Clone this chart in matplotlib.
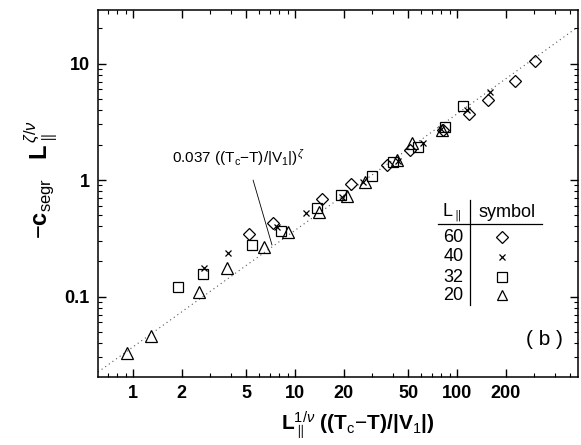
import numpy as np
import matplotlib
matplotlib.use("Agg")
import matplotlib.pyplot as plt
from matplotlib.ticker import LogLocator, NullFormatter

plt.rcParams["font.family"] = ["Liberation Sans", "DejaVu Sans"]
plt.rcParams["mathtext.fontset"] = "custom"
plt.rcParams["mathtext.rm"] = "Liberation Sans"
plt.rcParams["mathtext.it"] = "Liberation Sans:italic"
plt.rcParams["mathtext.bf"] = "Liberation Sans:bold"

# data: x = L^(1/nu) (Tc-T)/|V1|, y = -c_segr L^(zeta/nu)
x_60 = [5.20, 7.33, 14.7, 22.2, 37.0, 51.3, 82.2, 118.7, 155, 228, 303]
y_60 = [0.344, 0.428, 0.687, 0.924, 1.35, 1.81, 2.69, 3.69, 4.86, 7.07, 10.5]

x_40 = [2.74, 3.85, 7.7, 11.7, 19.5, 26.3, 43.3, 61.6, 79.5, 115, 160]
y_40 = [0.176, 0.236, 0.395, 0.52, 0.715, 0.96, 1.46, 2.08, 2.74, 3.99, 5.7]

x_32 = [1.90, 2.70, 5.43, 8.19, 13.7, 19.2, 29.9, 40.3, 57.3, 84.3, 109]
y_32 = [0.120, 0.156, 0.277, 0.365, 0.575, 0.743, 1.08, 1.43, 1.92, 2.85, 4.32]

x_20 = [0.92, 1.29, 2.56, 3.81, 6.44, 9.05, 14.0, 20.9, 27.0, 42.7, 52.7, 80.5]
y_20 = [0.033, 0.046, 0.109, 0.176, 0.266, 0.358, 0.53, 0.73, 0.96, 1.49, 2.08, 2.7]

fit_amp = 0.037
fit_exp = 1.0

legend_sizes = ["60", "40", "32", "20"]
legend_marks = ["D", "x", "s", "^"]

fig = plt.figure(figsize=(5.81, 4.45), dpi=100)
ax = fig.add_axes([0.1687, 0.1528, 0.8261, 0.8247])
ax.set_xscale("log")
ax.set_yscale("log")
ax.set_xlim(0.608, 558)
ax.set_ylim(0.0204, 28.8)

# fitted power law
xf = np.array(ax.get_xlim())
ax.plot(xf, fit_amp * xf ** fit_exp, color="#555555", lw=0.8,
        linestyle=(0, (1, 3)), zorder=1)

style = dict(linestyle="none", color="black", mfc="none", mew=0.9, zorder=3)
ax.plot(x_60, y_60, marker="D", ms=6.5, **style)
ax.plot(x_40, y_40, marker="x", ms=4, **style)
ax.plot(x_32, y_32, marker="s", ms=7, **style)
ax.plot(x_20, y_20, marker="^", ms=8, **style)

# ticks
ax.xaxis.set_minor_locator(LogLocator(base=10, subs=np.arange(2, 10)))
ax.set_xticks([1, 2, 5, 10, 20, 50, 100, 200])
ax.set_xticklabels(["1", "2", "5", "10", "20", "50", "100", "200"])
ax.yaxis.set_minor_locator(LogLocator(base=10, subs=np.arange(2, 10)))
ax.yaxis.set_minor_formatter(NullFormatter())
ax.xaxis.set_minor_formatter(NullFormatter())
ax.set_yticks([0.1, 1, 10])
ax.set_yticklabels(["0.1", "1", "10"])
ax.tick_params(which="both", direction="in", top=True, right=True)
ax.tick_params(which="major", length=6, width=1.0, labelsize=13, pad=6)
ax.tick_params(which="minor", length=3, width=0.8)
for lab in ax.get_xticklabels() + ax.get_yticklabels():
    lab.set_fontweight("bold")
for sp in ax.spines.values():
    sp.set_linewidth(1.1)

# annotation of fit
ax.annotate("", xy=(7.21, 0.277), xytext=(5.51, 1.0), textcoords="data",
            arrowprops=dict(arrowstyle="-", color="black", lw=0.6,
                            shrinkA=0, shrinkB=0))
ax.text(4.45, 1.55, r"0.037 ((T$_{\rm c}$$-$T)/|V$_1$|)$^{\zeta}$",
        ha="center", va="center", fontsize=11)

# symbol table
ax.text(0.7375, 0.447, r"L$_{\parallel}$", transform=ax.transAxes,
        ha="center", va="center", fontsize=13)
ax.text(0.853, 0.447, "symbol", transform=ax.transAxes, ha="center",
        va="center", fontsize=13)
ax.plot([0.709, 0.926], [0.417, 0.417], transform=ax.transAxes,
        color="black", lw=0.9, clip_on=False)
ax.plot([0.775, 0.775], [0.196, 0.482], transform=ax.transAxes,
        color="black", lw=0.9, clip_on=False)
row_y = [0.381, 0.327, 0.272, 0.223]
mark_ms = {"D": 6, "x": 4, "s": 6.5, "^": 6.5}
for lbl, mk, yy in zip(legend_sizes, legend_marks, row_y):
    ax.text(0.762, yy, lbl, transform=ax.transAxes, ha="right", va="center",
            fontsize=13)
    ax.plot([0.842], [yy], transform=ax.transAxes, marker=mk,
            ms=mark_ms[mk], mfc="none", color="black", mew=0.9,
            linestyle="none")

ax.text(0.931, 0.101, "( b )", transform=ax.transAxes, ha="center",
        va="center", fontsize=15)

fig.text(0.616, 0.045, r"L$_{\parallel}^{1/\nu}$ ((T$_{\rm c}$$-$T)/|V$_1$|)",
         ha="center", va="center", fontsize=15, fontweight="bold")
fig.text(0.07, 0.596, r"$-$c$_{\rm segr}$   L$_{\parallel}^{\,\zeta/\nu}$",
         ha="center", va="center", rotation=90, fontsize=17,
         fontweight="bold")

fig.savefig("out.png", dpi=100)
